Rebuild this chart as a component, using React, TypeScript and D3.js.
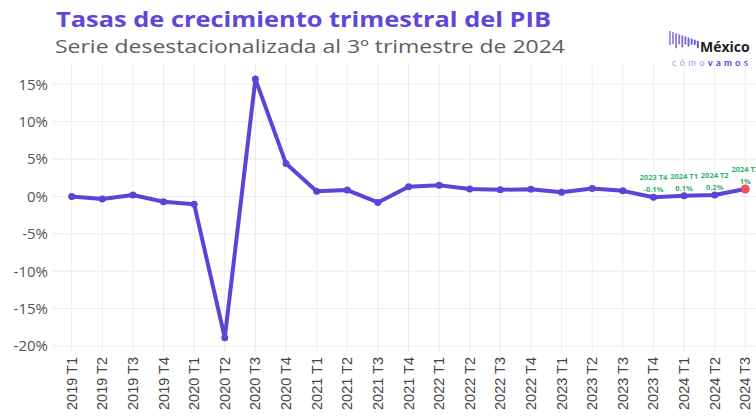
import React from "react";
import * as d3 from "d3";

const quarters = [
  "2019 T1", "2019 T2", "2019 T3", "2019 T4",
  "2020 T1", "2020 T2", "2020 T3", "2020 T4",
  "2021 T1", "2021 T2", "2021 T3", "2021 T4",
  "2022 T1", "2022 T2", "2022 T3", "2022 T4",
  "2023 T1", "2023 T2", "2023 T3", "2023 T4",
  "2024 T1", "2024 T2", "2024 T3",
];

// crecimiento trimestral (%)
const growth = [
  0.0, -0.35, 0.2, -0.7,
  -1.05, -18.9, 15.7, 4.4,
  0.7, 0.85, -0.8, 1.3,
  1.5, 1.0, 0.9, 0.95,
  0.55, 1.05, 0.75, -0.1,
  0.1, 0.2, 1.0,
];

const yTicks = [-20, -15, -10, -5, 0, 5, 10, 15];

const noteQuarters = ["2023 T4", "2024 T1", "2024 T2", "2024 T3"];
const noteLabels = ["-0.1%", "0.1%", "0.2%", "1%"];

// logo bars (decoration)
const logoBars = [14, 12, 15, 10, 12, 8, 9, 6, 5, 7];

const W = 756;
const H = 419;

export default function App() {
  const x = d3.scalePoint<string>().domain(quarters).range([71.7, 745.3]);
  const y = d3.scaleLinear().domain([-20, 15]).range([346, 84.3]);

  const data = quarters.map((q, i) => ({ q, v: growth[i] }));
  const line = d3
    .line<{ q: string; v: number }>()
    .x((d) => x(d.q) as number)
    .y((d) => y(d.v));

  const purple = "#5b44d8";
  const green = "#2fb36f";
  const last = data[data.length - 1];

  return (
    <svg
      width={W}
      height={H}
      style={{ position: "absolute", left: 0, top: 0, background: "#fff" }}
      fontFamily="'Open Sans', sans-serif"
    >
      {/* title */}
      <text x={56} y={27} fontSize={22} fontWeight="bold" fill="#6047d9" textLength={495} lengthAdjust="spacingAndGlyphs">
        Tasas de crecimiento trimestral del PIB
      </text>
      <text x={55} y={53} fontSize={19} fill="#5e5e5e" textLength={510} lengthAdjust="spacingAndGlyphs">
        Serie desestacionalizada al 3º trimestre de 2024
      </text>

      {/* logo */}
      <g>
        {logoBars.map((h, i) => (
          <rect
            key={i}
            x={669 + i * 3.1}
            y={31 + i * 1.1}
            width={1.8}
            height={h}
            fill={d3.interpolateRgb("#9a8cf0", "#4b3fc9")(i / logoBars.length)}
          />
        ))}
        <text x={700} y={52} fontSize={14} fontWeight="bold" fill="#222">
          México
        </text>
        <text x={672} y={66} fontSize={9.5} letterSpacing={3.2} fontFamily="Lato, sans-serif">
          <tspan fill="#a99be8">cómo</tspan>
          <tspan fill="#5a45d6" fontWeight="bold">vamos</tspan>
        </text>
      </g>

      {/* grid */}
      <g stroke="#ececf2" strokeWidth={1}>
        {quarters.map((q) => (
          <line key={q} x1={x(q)} x2={x(q)} y1={63} y2={352} />
        ))}
        {yTicks.map((t) => (
          <line key={t} x1={52} x2={W} y1={y(t)} y2={y(t)} />
        ))}
      </g>

      {/* y axis labels */}
      <g fontSize={15} fill="#555" textAnchor="end">
        {yTicks.map((t) => (
          <text key={t} x={48} y={y(t)} dy="0.36em">
            {t + "%"}
          </text>
        ))}
      </g>

      {/* x axis labels */}
      <g fontSize={14.5} fill="#444" fontFamily="'Liberation Sans', Arial, sans-serif" textAnchor="end">
        {quarters.map((q) => (
          <text key={q} transform={`translate(${(x(q) as number) + 5},357) rotate(-90)`}>
            {q}
          </text>
        ))}
      </g>

      {/* line */}
      <path d={line(data) || ""} fill="none" stroke={purple} strokeWidth={4} strokeLinejoin="round" />
      {data.slice(0, -1).map((d) => (
        <circle key={d.q} cx={x(d.q)} cy={y(d.v)} r={3.5} fill={purple} />
      ))}
      <circle cx={x(last.q)} cy={y(last.v)} r={4.5} fill="#f0505c" />

      {/* annotations */}
      <g fontSize={7.5} fontWeight="bold" fill={green} textAnchor="middle">
        {noteQuarters.map((q, i) => {
          const v = growth[quarters.indexOf(q)];
          const cx = x(q) as number;
          return (
            <g key={q}>
              <text x={cx} y={y(v) - 17}>{q}</text>
              <text x={cx} y={y(v) - 5}>{noteLabels[i]}</text>
            </g>
          );
        })}
      </g>
    </svg>
  );
}
